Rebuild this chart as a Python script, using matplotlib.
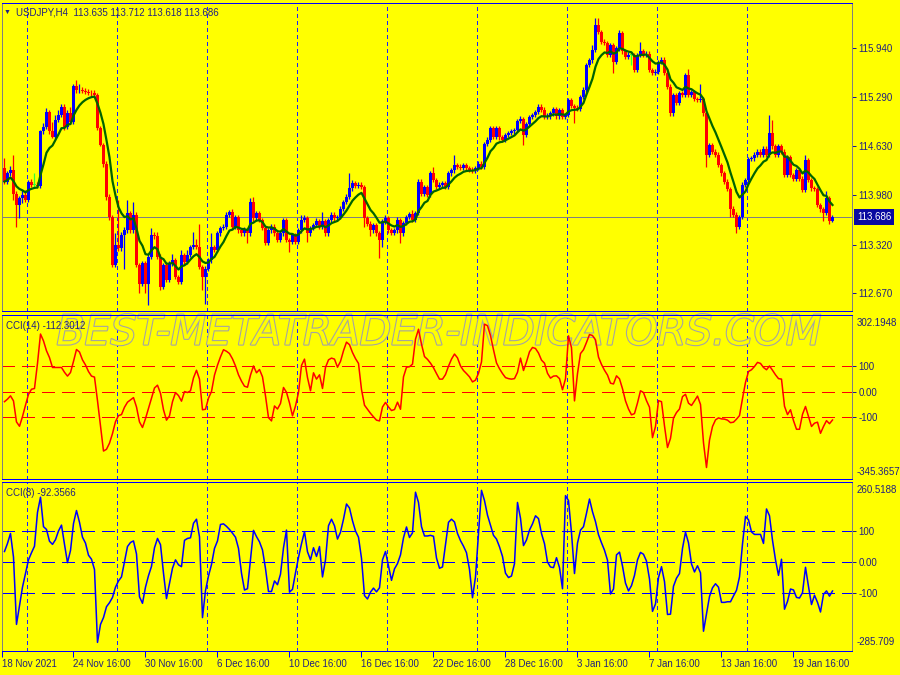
import numpy as np
import pandas as pd
import matplotlib
matplotlib.use("Agg")
import matplotlib.pyplot as plt
import matplotlib.patheffects as pe

plt.rcParams['font.family'] = ['Liberation Sans', 'DejaVu Sans']

# ---------------------------------------------------------------- data
symbol_text = "USDJPY,H4  113.635 113.712 113.618 113.686"
cci14_title = "CCI(14) -112.3012"
cci8_title = "CCI(8) -92.3566"
watermark = "BEST-METATRADER-INDICATORS.COM"

first_open = 114.34
closes = [
    114.16, 114.27, 114.32, 114.00, 113.85, 113.94, 113.98, 113.92, 114.16, 114.12,
    114.12, 114.10, 114.83, 114.89, 115.09, 114.83, 114.76, 114.98, 115.05, 115.16,
    114.89, 115.07, 114.96, 115.44, 115.38, 115.39, 115.37, 115.36, 115.35, 115.34,
    115.32, 114.87, 114.65, 114.40, 113.96, 113.69, 113.05, 113.31, 113.27, 113.45,
    113.51, 113.74, 113.51, 113.72, 113.05, 112.80, 113.07, 112.80, 113.16, 113.45,
    113.43, 113.16, 112.76, 113.05, 112.85, 113.07, 113.11, 112.89, 112.82, 113.18,
    113.09, 113.18, 113.29, 113.31, 113.29, 113.02, 112.89, 113.00, 113.11, 113.29,
    113.25, 113.47, 113.54, 113.56, 113.72, 113.76, 113.56, 113.69, 113.51, 113.47,
    113.51, 113.47, 113.89, 113.67, 113.74, 113.65, 113.54, 113.34, 113.51, 113.56,
    113.47, 113.38, 113.47, 113.65, 113.38, 113.36, 113.45, 113.36, 113.51, 113.65,
    113.67, 113.47, 113.54, 113.58, 113.63, 113.56, 113.63, 113.47, 113.65, 113.72,
    113.67, 113.69, 113.80, 113.89, 113.96, 114.07, 114.14, 114.10, 114.12, 114.09,
    113.67, 113.60, 113.51, 113.58, 113.47, 113.38, 113.63, 113.67, 113.51, 113.48,
    113.51, 113.65, 113.47, 113.61, 113.69, 113.73, 113.65, 113.74, 114.16, 114.00,
    114.09, 113.98, 114.27, 114.18, 114.09, 114.12, 114.14, 114.09, 114.27, 114.31,
    114.38, 114.36, 114.34, 114.38, 114.34, 114.32, 114.31, 114.34, 114.40, 114.36,
    114.66, 114.72, 114.87, 114.76, 114.87, 114.75, 114.72, 114.78, 114.81, 114.83,
    114.85, 114.97, 114.99, 114.78, 114.93, 115.02, 115.05, 115.09, 115.16, 115.12,
    115.02, 115.03, 115.07, 115.13, 115.03, 115.11, 115.02, 115.05, 115.25, 115.17,
    115.14, 115.13, 115.29, 115.39, 115.72, 115.78, 115.92, 116.25, 116.16, 116.03,
    116.01, 115.85, 115.98, 115.76, 115.94, 116.14, 115.90, 115.83, 115.85, 115.85,
    115.65, 115.85, 115.90, 115.86, 115.87, 115.65, 115.61, 115.63, 115.76, 115.79,
    115.61, 115.43, 115.07, 115.32, 115.21, 115.34, 115.32, 115.58, 115.32, 115.36,
    115.26, 115.25, 115.26, 115.07, 114.52, 114.65, 114.56, 114.52, 114.38, 114.27,
    114.16, 114.06, 113.80, 113.72, 113.56, 113.69, 114.12, 114.18, 114.46, 114.47,
    114.52, 114.56, 114.52, 114.60, 114.52, 114.81, 114.63, 114.52, 114.63, 114.56,
    114.25, 114.49, 114.25, 114.20, 114.31, 114.20, 114.05, 114.45, 114.18, 114.07,
    114.06, 113.85, 113.79, 113.74, 113.94, 113.635, 113.686,
]
highs = [
    114.47, 114.30, 114.37, 114.52, 114.03, 113.97, 114.05, 114.05, 114.18, 114.19,
    114.27, 114.16, 114.85, 114.94, 115.14, 115.12, 114.95, 115.05, 115.11, 115.20,
    115.19, 115.12, 115.16, 115.47, 115.52, 115.47, 115.42, 115.41, 115.40, 115.38,
    115.38, 115.34, 114.90, 114.68, 114.43, 113.99, 113.72, 113.47, 113.91, 113.49,
    113.55, 113.91, 113.77, 113.89, 113.75, 113.08, 113.10, 113.10, 113.19, 113.54,
    113.49, 113.49, 113.19, 113.08, 113.08, 113.10, 113.20, 113.14, 112.92, 113.25,
    113.21, 113.25, 113.32, 113.49, 113.40, 113.60, 113.05, 113.03, 113.14, 113.47,
    113.32, 113.50, 113.57, 113.60, 113.75, 113.78, 113.79, 113.72, 113.72, 113.54,
    113.56, 113.54, 113.94, 113.96, 113.77, 113.77, 113.68, 113.57, 113.54, 113.59,
    113.59, 113.50, 113.50, 113.67, 113.68, 113.41, 113.48, 113.48, 113.54, 113.71,
    113.71, 113.70, 113.57, 113.61, 113.67, 113.66, 113.76, 113.66, 113.68, 113.75,
    113.75, 113.72, 113.83, 113.92, 113.99, 114.27, 114.18, 114.17, 114.15, 114.15,
    114.12, 113.70, 113.63, 113.61, 113.61, 113.50, 113.66, 113.71, 113.70, 113.54,
    113.54, 113.69, 113.68, 113.64, 113.72, 113.76, 113.78, 113.77, 114.20, 114.19,
    114.12, 114.12, 114.30, 114.36, 114.21, 114.15, 114.17, 114.17, 114.30, 114.34,
    114.52, 114.41, 114.39, 114.41, 114.41, 114.37, 114.35, 114.37, 114.43, 114.43,
    114.69, 114.75, 114.90, 114.90, 114.90, 114.90, 114.78, 114.81, 114.84, 114.86,
    114.88, 115.00, 115.03, 115.02, 114.96, 115.05, 115.08, 115.12, 115.19, 115.19,
    115.15, 115.07, 115.10, 115.16, 115.16, 115.14, 115.14, 115.08, 115.28, 115.28,
    115.20, 115.18, 115.32, 115.42, 115.75, 115.81, 115.98, 116.34, 116.34, 116.19,
    116.06, 116.04, 116.01, 116.01, 115.97, 116.18, 116.17, 115.93, 115.89, 115.90,
    115.88, 115.88, 116.03, 115.93, 115.90, 115.90, 115.68, 115.66, 115.79, 115.82,
    115.82, 115.67, 115.46, 115.35, 115.35, 115.37, 115.37, 115.61, 115.67, 115.39,
    115.39, 115.29, 115.47, 115.29, 115.10, 114.68, 114.68, 114.59, 114.55, 114.41,
    114.30, 114.19, 114.09, 113.83, 113.75, 113.72, 114.15, 114.21, 114.49, 114.50,
    114.55, 114.59, 114.59, 114.63, 114.63, 115.05, 114.98, 114.66, 114.66, 114.66,
    114.59, 114.52, 114.52, 114.28, 114.34, 114.34, 114.23, 114.52, 114.48, 114.21,
    114.10, 114.09, 113.88, 113.82, 114.03, 113.97, 113.712,
]
lows = [
    114.13, 114.13, 114.24, 113.92, 113.56, 113.67, 113.88, 113.89, 113.89, 114.09,
    114.07, 114.07, 114.07, 114.80, 114.86, 114.80, 114.74, 114.73, 114.95, 115.02,
    114.85, 114.86, 114.93, 114.93, 115.35, 115.35, 115.34, 115.33, 115.32, 115.31,
    115.29, 114.85, 114.63, 114.36, 113.91, 113.65, 113.02, 113.02, 113.24, 113.24,
    113.00, 113.48, 113.48, 113.48, 113.02, 112.67, 112.77, 112.67, 112.51, 113.13,
    113.40, 113.13, 112.71, 112.73, 112.82, 112.82, 113.04, 112.86, 112.79, 112.79,
    113.06, 113.06, 113.15, 113.26, 113.26, 112.99, 112.71, 112.53, 112.97, 113.08,
    113.22, 113.22, 113.44, 113.51, 113.53, 113.69, 113.53, 113.53, 113.48, 113.44,
    113.44, 113.34, 113.44, 113.64, 113.64, 113.62, 113.51, 113.31, 113.31, 113.48,
    113.44, 113.35, 113.35, 113.44, 113.35, 113.22, 113.33, 113.33, 113.33, 113.48,
    113.62, 113.36, 113.44, 113.51, 113.55, 113.53, 113.53, 113.44, 113.44, 113.62,
    113.64, 113.64, 113.66, 113.77, 113.86, 113.93, 114.04, 114.07, 114.07, 114.06,
    113.56, 113.57, 113.43, 113.48, 113.44, 113.14, 113.29, 113.60, 113.48, 113.45,
    113.45, 113.48, 113.34, 113.44, 113.58, 113.66, 113.62, 113.62, 113.71, 113.97,
    113.97, 113.95, 113.95, 114.15, 114.06, 114.06, 114.09, 114.06, 114.06, 114.24,
    114.28, 114.33, 114.31, 114.31, 114.31, 114.29, 114.28, 114.28, 114.31, 114.33,
    114.33, 114.63, 114.69, 114.73, 114.73, 114.72, 114.69, 114.69, 114.75, 114.78,
    114.80, 114.82, 114.94, 114.65, 114.75, 114.90, 114.99, 115.02, 115.06, 115.09,
    114.99, 114.99, 115.00, 115.04, 115.00, 115.00, 114.99, 114.99, 115.02, 115.14,
    114.94, 115.10, 115.10, 115.26, 115.36, 115.69, 115.75, 115.89, 116.13, 116.00,
    115.98, 115.82, 115.82, 115.61, 115.73, 115.91, 115.87, 115.80, 115.80, 115.72,
    115.62, 115.62, 115.82, 115.83, 115.83, 115.62, 115.58, 115.58, 115.60, 115.73,
    115.58, 115.40, 115.04, 115.04, 115.18, 115.18, 115.29, 115.29, 115.29, 115.29,
    115.23, 115.22, 115.22, 115.04, 114.36, 114.49, 114.53, 114.49, 114.35, 114.24,
    114.13, 114.03, 113.69, 113.69, 113.47, 113.53, 113.66, 114.09, 114.15, 114.43,
    114.44, 114.49, 114.49, 114.49, 114.49, 114.49, 114.60, 114.49, 114.49, 114.53,
    114.22, 114.22, 114.22, 114.17, 114.17, 114.17, 114.02, 114.02, 114.15, 114.04,
    114.03, 113.82, 113.76, 113.63, 113.71, 113.60, 113.618,
]
cci14 = [
    -40, -30, -17, -37, -120, -137, -99, -54, -11, 9,
    12, 111, 227, 200, 161, 134, 95, 95, 95, 95,
    76, 61, 75, 119, 166, 156, 125, 105, 79, 61,
    57, -36, -136, -235, -228, -204, -166, -119, -95, -91,
    -62, -42, -33, -24, -61, -120, -142, -107, -67, -28,
    14, 25, -7, -72, -113, -96, -40, -4, -16, -38,
    0, -4, 3, 54, 84, 49, -72, -70, -26, 0,
    65, 104, 137, 165, 159, 150, 129, 101, 66, 41,
    21, 17, 65, 101, 74, 87, 58, -17, -103, -116,
    -57, -69, -47, 16, -3, -45, -96, -57, -4, 103,
    128, 55, 3, 74, 49, 66, 12, 95, 125, 132,
    128, 96, 119, 161, 195, 185, 154, 130, 111, 8,
    -54, -70, -86, -100, -113, -116, -61, -43, -61, -75,
    -71, -42, -70, 58, 96, 98, 108, 207, 246, 187,
    138, 127, 112, 94, 71, 49, 49, 67, 100, 128,
    148, 133, 101, 83, 71, 58, 38, 45, 72, 117,
    266, 260, 221, 165, 113, 90, 71, 55, 51, 49,
    51, 76, 132, 83, 117, 157, 174, 170, 152, 124,
    112, 72, 53, 61, 62, 51, 7, 50, 220, 173,
    -37, 71, 150, 165, 194, 225, 221, 204, 136, 107,
    84, 65, 33, 30, 62, 50, 11, -37, -69, -92,
    -87, -45, 3, -4, -36, -62, -182, -138, -36, -40,
    -136, -221, -185, -105, -83, -69, -20, -11, -46, -55,
    -37, -18, -51, -202, -300, -192, -138, -112, -104, -108,
    -109, -113, -123, -121, -109, -95, -28, 36, 79, 86,
    99, 115, 111, 95, 86, 101, 84, 66, 51, 49,
    -58, -91, -72, -115, -149, -149, -90, -59, -99, -138,
    -125, -121, -165, -138, -115, -127, -112.3012,
]
cci8 = [
    35, 61, 93, 17, -200, -140, -80, -36, 8, 31,
    52, 161, 210, 115, 106, 68, 58, 73, 101, 120,
    58, -1, 38, 125, 167, 129, 81, 62, 23, 10,
    -23, -258, -200, -178, -143, -130, -113, -80, -60, -47,
    2, 51, 64, 69, 27, -111, -132, -80, -43, -13,
    47, 77, 57, -35, -117, -68, -19, 8, -8, -14,
    71, 77, 79, 126, 139, 82, -178, -91, -44, -7,
    45, 69, 122, 124, 116, 106, 94, 81, 45, -35,
    -89, -85, 8, 103, 83, 66, 40, -20, -94, -94,
    -60, -72, -38, 47, 104, -96, -87, -34, 16, 60,
    99, 34, 8, 47, 19, 51, -47, 8, 118, 139,
    118, 75, 97, 139, 188, 175, 134, 101, 81, 13,
    -107, -118, -96, -83, -95, -82, 8, 35, -12, -58,
    -21, -4, 24, 79, 114, 80, 95, 226, 193, 115,
    85, 85, 87, 84, 14, -19, -15, 57, 129, 139,
    130, 93, 70, 52, 31, -23, -114, -47, 95, 232,
    199, 152, 120, 87, 75, 50, 19, -35, -49, -44,
    -4, 193, 142, 54, 72, 104, 124, 150, 141, 93,
    60, 1, -15, -17, 15, -17, -85, 215, 199, 95,
    -36, 62, 104, 115, 158, 204, 163, 131, 89, 63,
    39, 7, -102, -86, 24, 33, -12, -67, -92, -75,
    -42, 8, 32, 26, 4, -54, -158, -134, -49, -14,
    -62, -168, -167, -77, -51, -36, 45, 97, 63, -5,
    -31, -11, -34, -222, -167, -110, -82, -69, -80, -129,
    -129, -127, -127, -108, -90, -47, 59, 148, 137, 98,
    90, 90, 90, 61, 172, 150, 71, 8, -42, 10,
    -151, -126, -86, -89, -113, -115, -98, -16, -78, -136,
    -106, -129, -160, -103, -92, -109, -92.3566,
]

price_ticks = [115.940, 115.290, 114.630, 113.980, 113.320, 112.670]
last_price = 113.686
cci14_min, cci14_max = -345.3657, 302.1948
cci8_min, cci8_max = -285.709, 260.5188
cci14_edge_labels = ["302.1948", "-345.3657"]
cci8_edge_labels = ["260.5188", "-285.709"]
date_labels = ["18 Nov 2021", "24 Nov 16:00", "30 Nov 16:00", "6 Dec 16:00",
               "10 Dec 16:00", "16 Dec 16:00", "22 Dec 16:00", "28 Dec 16:00",
               "3 Jan 16:00", "7 Jan 16:00", "13 Jan 16:00", "19 Jan 16:00"]
date_bars = [-0.7, 23, 47, 71, 95, 119, 143, 167, 191, 215, 239, 263]

# ---------------------------------------------------------------- style
W, H = 900, 675
YELLOW = '#ffff00'
NAVY = '#202080'
BLUE = '#0000ff'
RED = '#ff0000'
GRAY = '#808080'
FS = 7.0
PX = 0.72  # one pixel, in points

n = len(closes)
x = np.arange(n)
c = np.array(closes)
o = np.r_[first_open, c[:-1]]
ma = pd.Series(c).ewm(span=8, adjust=False).mean()

fig = plt.figure(figsize=(9, 6.75), dpi=100, facecolor=YELLOW)


def panel(x0, y0, x1, y1):
    ax = fig.add_axes([x0 / W, 1 - y1 / H, (x1 - x0) / W, (y1 - y0) / H], facecolor=YELLOW)
    for s in ('top', 'bottom'):
        ax.spines[s].set_color(BLUE)
    for s in ('left', 'right'):
        ax.spines[s].set_color(GRAY)
    for sp in ax.spines.values():
        sp.set_linewidth(PX)
    ax.set_xlim(-0.83, 282.5)
    ax.yaxis.tick_right()
    ax.tick_params(axis='y', direction='out', length=3, width=PX, colors=NAVY,
                   labelsize=FS, pad=1.5)
    ax.tick_params(axis='x', bottom=False, labelbottom=False)
    for gx in np.arange(7.4, 260, 30):
        ax.axvline(gx, color='#2020ff', lw=PX, ls=(0, (3, 3)), zorder=0.5,
                   antialiased=False)
    return ax


# price panel
ax1 = panel(2, 3, 852, 311)
ax1.set_ylim(112.433, 116.545)
col = np.where(c > o + 1e-9, BLUE, np.where(c < o - 1e-9, RED, '#33ff33'))
ax1.axhline(last_price, color=GRAY, lw=PX, zorder=1, antialiased=False)
ax1.vlines(x, lows, highs, colors=col, lw=0.9, zorder=2)
ax1.bar(x, np.maximum(np.abs(c - o), 0.008), bottom=np.minimum(o, c), width=0.8,
        color=col, linewidth=0, zorder=2)
ax1.plot(x, ma, color='#006400', lw=1.6, zorder=3)
ax1.set_yticks(price_ticks)
ax1.set_yticklabels([f"{v:.3f}" for v in price_ticks])
fig.text(857 / W, 1 - 217 / H, f"{last_price:.3f}", ha='left', va='center', fontsize=FS,
         color='white', bbox=dict(boxstyle='square,pad=0.3', fc='#0a0aa0', ec='none'))
fig.text(4 / W, 1 - 12.5 / H, "\u25bc", ha='left', va='center', fontsize=5, color=NAVY)
fig.text(16.5 / W, 1 - 12.5 / H, symbol_text, ha='left', va='center', fontsize=FS, color=NAVY)

# CCI(14)
ax2 = panel(2, 315, 852, 479)
ax2.set_ylim(cci14_min, cci14_max)
for lv in (100, 0, -100):
    ax2.axhline(lv, color=RED, lw=PX, ls=(0, (13, 7)), zorder=1, antialiased=False)
ax2.plot(x, cci14, color=RED, lw=1.1, zorder=3)
ax2.set_yticks([100, 0, -100])
ax2.set_yticklabels(["100", "0.00", "-100"])
ax2.text(1.0059, 0.951, cci14_edge_labels[0], transform=ax2.transAxes, ha='left',
         va='center', fontsize=FS, color=NAVY)
ax2.text(1.0059, 0.045, cci14_edge_labels[1], transform=ax2.transAxes, ha='left',
         va='center', fontsize=FS, color=NAVY)
ax2.text(0.005, 0.93, cci14_title, transform=ax2.transAxes, ha='left', va='center',
         fontsize=FS, color=NAVY, zorder=4)
ax2.text(0.514, 0.89, watermark, transform=ax2.transAxes, ha='center', va='center',
         fontsize=29.5, style='italic', family='DejaVu Sans', color=YELLOW, zorder=0.8,
         path_effects=[pe.withStroke(linewidth=1.6, foreground='#a4a4a4')])

# CCI(8)
ax3 = panel(2, 481.5, 852, 651)
ax3.set_ylim(cci8_min, cci8_max)
for lv in (100, 0, -100):
    ax3.axhline(lv, color=BLUE, lw=PX, ls=(0, (13, 7)), zorder=1, antialiased=False)
ax3.plot(x, cci8, color=BLUE, lw=1.1, zorder=3)
ax3.set_yticks([100, 0, -100])
ax3.set_yticklabels(["100", "0.00", "-100"])
ax3.text(1.0059, 0.95, cci8_edge_labels[0], transform=ax3.transAxes, ha='left',
         va='center', fontsize=FS, color=NAVY)
ax3.text(1.0059, 0.053, cci8_edge_labels[1], transform=ax3.transAxes, ha='left',
         va='center', fontsize=FS, color=NAVY)
ax3.text(0.005, 0.935, cci8_title, transform=ax3.transAxes, ha='left', va='center',
         fontsize=FS, color=NAVY, zorder=4)
ax3.tick_params(axis='x', bottom=True, labelbottom=True, direction='out', length=4,
                width=PX, color=BLUE, labelcolor=NAVY, labelsize=FS, pad=1.5)
ax3.set_xticks(date_bars)
ax3.set_xticklabels(date_labels, ha='left')

fig.savefig('out.png', dpi=100, facecolor=YELLOW)
